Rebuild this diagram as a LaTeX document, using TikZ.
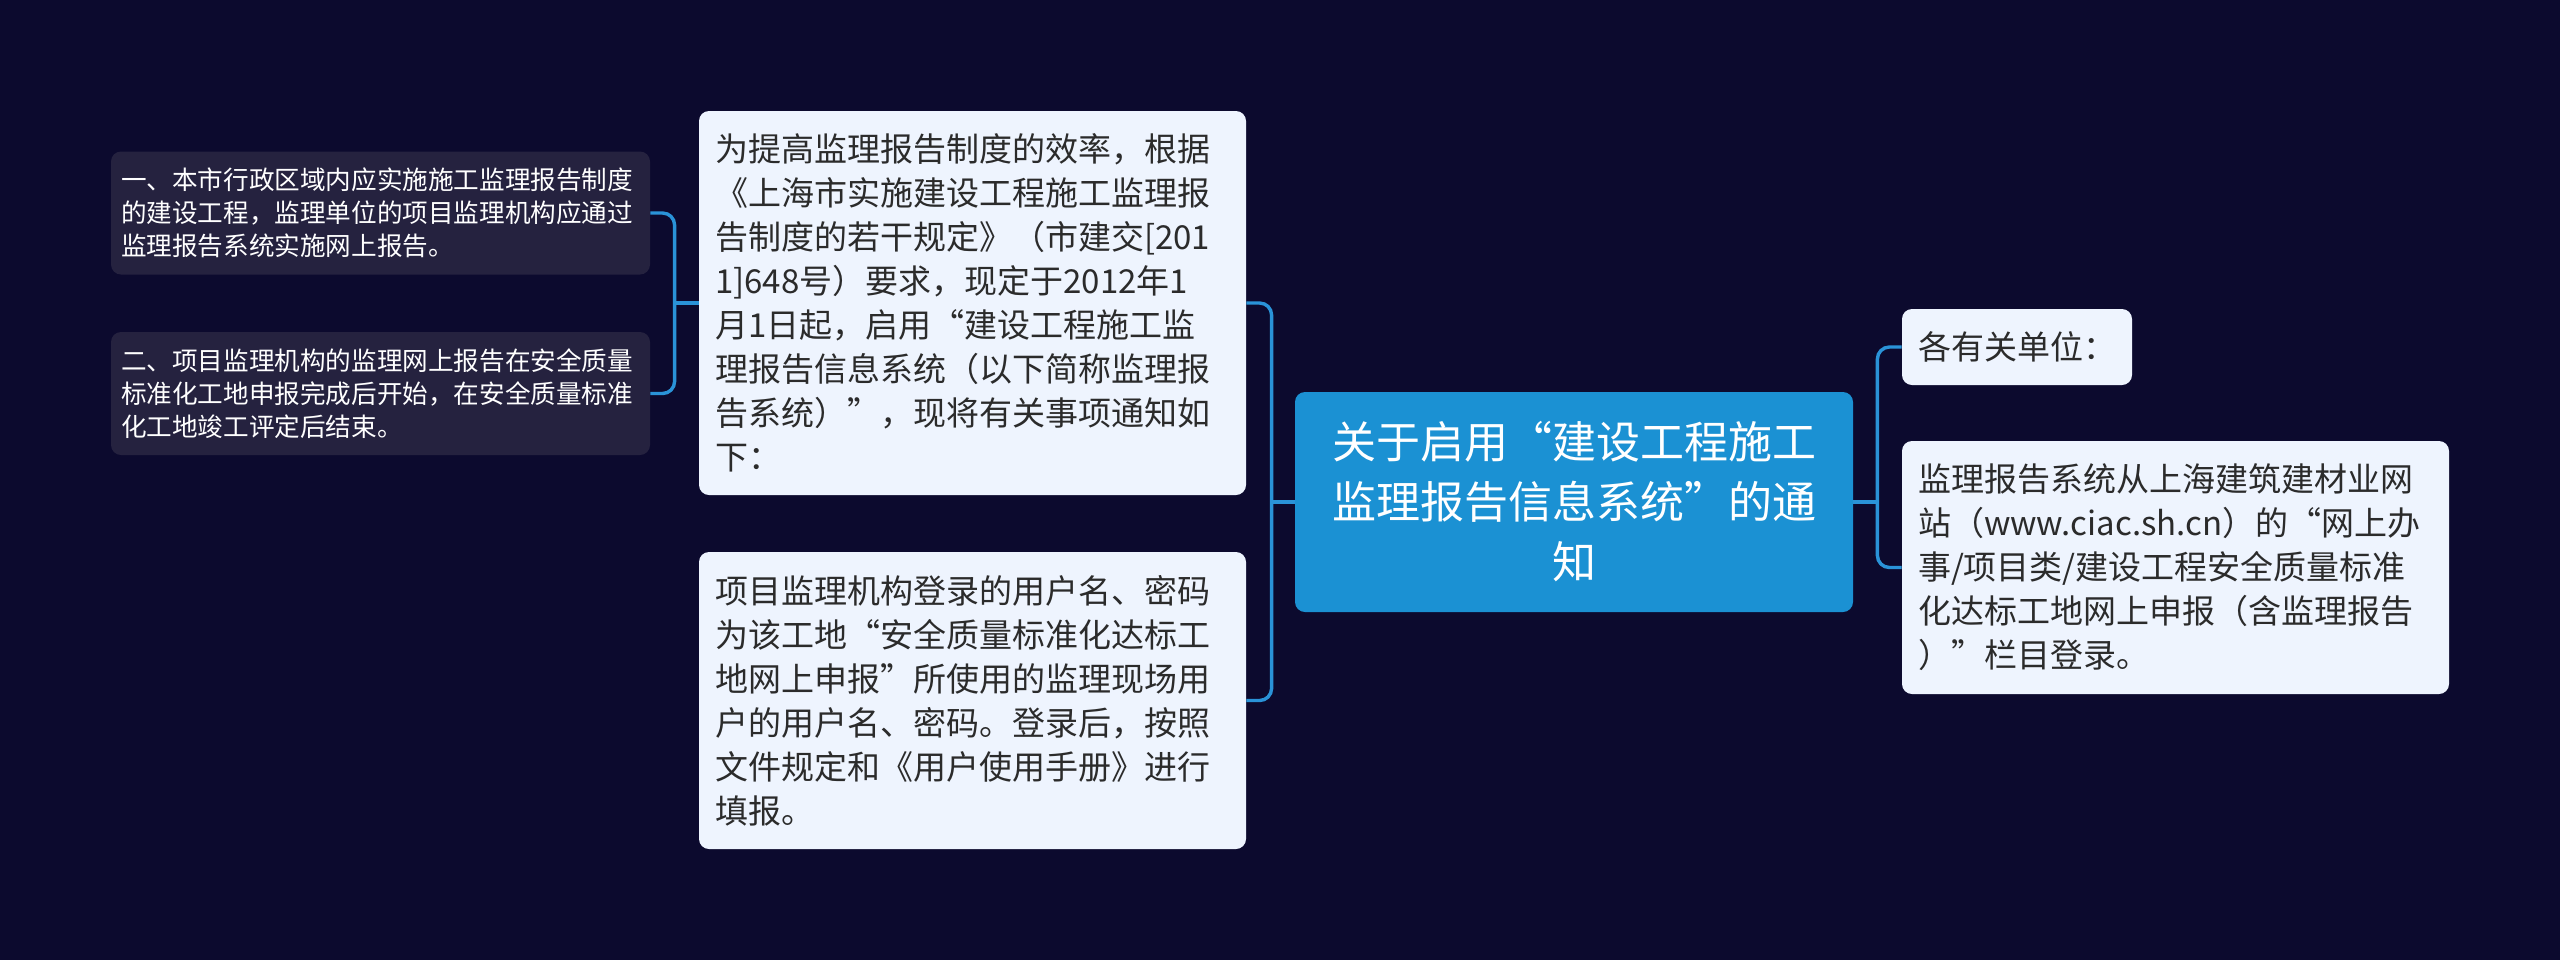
\documentclass[tikz,border=0pt]{standalone}
\usepackage{fontspec}
\setmainfont{Noto Sans CJK SC}
\usetikzlibrary{calc}

\definecolor{bgnavy}{HTML}{0C0A2E}
\definecolor{rootblue}{HTML}{1B91D3}
\definecolor{linkblue}{HTML}{2A93D8}
\definecolor{boxwhite}{HTML}{EEF4FE}
\definecolor{boxdark}{HTML}{25223F}
\definecolor{textgray}{HTML}{2B2B2B}

\begin{document}
\begin{tikzpicture}[
		x=0.5pt,y=-0.5pt,
		link/.style={draw=linkblue,line width=1.7pt,rounded corners=6pt},
		p0/.style={rectangle,rounded corners=5pt,fill=rootblue,text=white,align=center,inner xsep=8pt,
			text width=263pt,minimum height=110pt,font=\fontsize{22}{30}\selectfont},
		p1/.style={rectangle,rounded corners=5pt,fill=boxwhite,text=textgray,align=left,inner xsep=8pt,
			font=\fontsize{16.5}{22}\selectfont},
		p2/.style={rectangle,rounded corners=5pt,fill=boxdark,text=white,align=left,inner xsep=5pt,
			text width=259.5pt,minimum height=61.5pt,font=\fontsize{12.8}{16.5}\selectfont}
		]
		\fill[bgnavy] (0,0) rectangle (2560,960);
		
		\node[p0](root) at (1574,502){关于启用“建设工程施工\\监理报告信息系统”的通\\知};
		\node[p1,text width=257.5pt,minimum height=192pt](intro) at (972.5,303){为提高监理报告制度的效率，根据\\《上海市实施建设工程施工监理报\\告制度的若干规定》（市建交[201\\1]648号）要求，现定于2012年1\\月1日起，启用“建设工程施工监\\理报告信息系统（以下简称监理报\\告系统）”，现将有关事项通知如\\下：};
		\node[p1,text width=257.5pt,minimum height=148.5pt](login) at (972.5,700.5){项目监理机构登录的用户名、密码\\为该工地“安全质量标准化达标工\\地网上申报”所使用的监理现场用\\户的用户名、密码。登录后，按照\\文件规定和《用户使用手册》进行\\填报。};
		\node[p2](item1) at (380.5,213){一、本市行政区域内应实施施工监理报告制度\\的建设工程，监理单位的项目监理机构应通过\\监理报告系统实施网上报告。};
		\node[p2](item2) at (380.5,393.5){二、项目监理机构的监理网上报告在安全质量\\标准化工地申报完成后开始，在安全质量标准\\化工地竣工评定后结束。};
		\node[p1,text width=99pt,minimum height=38pt](units) at (2017,347){各有关单位：};
		\node[p1,text width=257.5pt,minimum height=126.5pt](site) at (2175.5,567.5){监理报告系统从上海建筑建材业网\\站（www.ciac.sh.cn）的“网上办\\事/项目类/建设工程安全质量标准\\化达标工地网上申报（含监理报告\\）”栏目登录。};
		
		\coordinate (lj) at ($(root.west)+(-23,0)$);
		\coordinate (aj) at ($(intro.west)+(-24,0)$);
		\coordinate (rj) at ($(root.east)+(24,0)$);
		
		\draw[link] (root.west) -- (lj);
		\draw[link] (intro.east) -| (lj) |- (login.east);
		\draw[link] (intro.west) -- (aj);
		\draw[link] (item1.east) -| (aj) |- (item2.east);
		\draw[link] (root.east) -- (rj);
		\draw[link] (units.west) -| (rj) |- (site.west);
		
\end{tikzpicture}
\end{document}
